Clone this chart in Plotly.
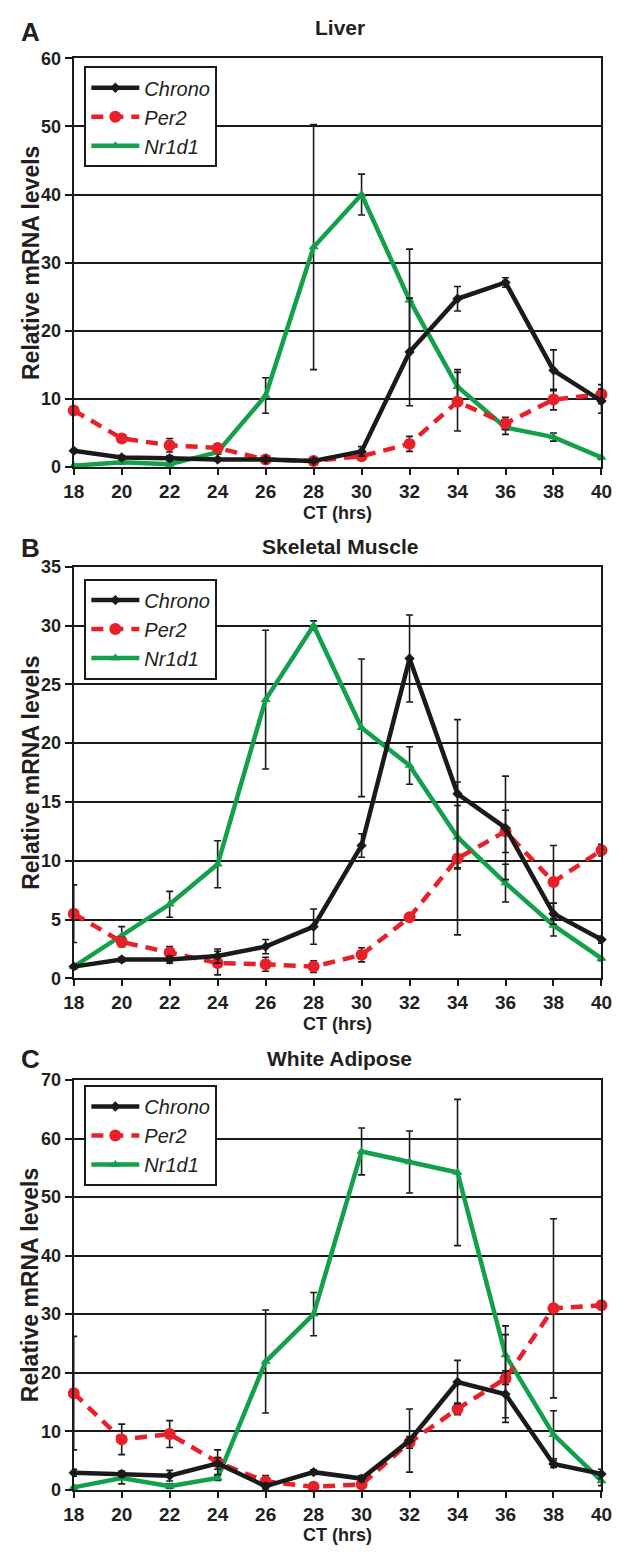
import plotly.graph_objects as go

W, H = 625, 1554

ct = [18, 20, 22, 24, 26, 28, 30, 32, 34, 36, 38, 40]
ct_ticks = ["18", "20", "22", "24", "26", "28", "30", "32", "34", "36", "38", "40"]
series_names = ["Chrono", "Per2", "Nr1d1"]
panel_titles = ["Liver", "Skeletal Muscle", "White Adipose"]
panel_letters = ["A", "B", "C"]
y_max = [60, 35, 70]
y_step = [10, 5, 10]

liver_chrono = [2.4, 1.4, 1.3, 1.1, 1.1, 0.9, 2.3, 16.9, 24.7, 27.1, 14.2, 9.7]
liver_chrono_err = [0.3, 0.3, 0.4, 0.2, 0.2, 0.2, 0.7, 7.9, 1.8, 0.7, 3.0, 1.8]
liver_per2 = [8.3, 4.2, 3.2, 2.8, 1.1, 0.9, 1.6, 3.4, 9.6, 6.4, 9.9, 10.7]
liver_per2_err = [0.4, 0.3, 1.0, 0.3, 0.2, 0.2, 0.3, 1.1, 4.3, 0.9, 1.5, 1.4]
liver_nr1d1 = [0.2, 0.7, 0.4, 2.2, 10.5, 32.3, 40.0, 24.5, 11.8, 5.8, 4.4, 1.4]
liver_nr1d1_err = [0.2, 0.2, 0.2, 0.3, 2.6, 18.0, 3.0, 7.5, 2.5, 1.0, 0.6, 0.3]

muscle_chrono = [1.0, 1.6, 1.6, 1.9, 2.7, 4.4, 11.3, 27.2, 15.7, 12.8, 5.5, 3.3]
muscle_chrono_err = [0.2, 0.2, 0.3, 0.6, 0.6, 1.5, 1.0, 3.7, 6.3, 4.4, 0.9, 0.3]
muscle_per2 = [5.5, 3.1, 2.2, 1.3, 1.2, 1.0, 2.0, 5.2, 10.2, 12.5, 8.2, 10.9]
muscle_per2_err = [2.45, 0.4, 0.5, 1.0, 0.6, 0.5, 0.6, 0.3, 6.5, 1.8, 3.1, 0.5]
muscle_nr1d1 = [1.0, 3.6, 6.3, 9.7, 23.7, 30.0, 21.3, 18.1, 12.0, 8.1, 4.5, 1.7]
muscle_nr1d1_err = [0.2, 0.8, 1.1, 2.0, 5.9, 0.4, 5.85, 1.6, 2.7, 1.6, 0.9, 0.2]

adipose_chrono = [2.9, 2.7, 2.4, 4.5, 0.6, 3.0, 1.9, 8.4, 18.4, 16.3, 4.4, 2.7]
adipose_chrono_err = [0.6, 0.5, 0.9, 1.0, 0.5, 0.4, 0.5, 5.4, 3.7, 4.0, 0.6, 0.8]
adipose_per2 = [16.5, 8.6, 9.5, 4.7, 1.4, 0.5, 0.9, 8.1, 13.8, 19.0, 31.0, 31.5]
adipose_per2_err = [9.7, 2.6, 2.3, 2.1, 1.0, 0.3, 0.5, 1.0, 1.0, 7.5, 15.3, 0.6]
adipose_nr1d1 = [0.4, 2.0, 0.6, 2.0, 21.9, 30.0, 57.8, 56.0, 54.2, 23.0, 9.4, 1.5]
adipose_nr1d1_err = [0.3, 1.0, 0.4, 0.4, 8.8, 3.7, 4.0, 5.3, 12.5, 5.0, 4.1, 0.8]

panels = [
    (liver_chrono, liver_chrono_err, liver_per2, liver_per2_err, liver_nr1d1, liver_nr1d1_err),
    (muscle_chrono, muscle_chrono_err, muscle_per2, muscle_per2_err, muscle_nr1d1, muscle_nr1d1_err),
    (adipose_chrono, adipose_chrono_err, adipose_per2, adipose_per2_err, adipose_nr1d1, adipose_nr1d1_err),
]

plot_left, plot_right = 65, 612
plot_rows = [(49, 463), (564, 981), (1084, 1499)]
legend_tops = [57, 576, 1089]
title_y = [18, 543, 1062]
letter_y = [22, 545, 1063]
xlabel_y = [510, 1027, 1545]

TXT = "#231f20"
FONT2 = "Liberation Sans, Arial, sans-serif"
BLACK = "#1a1a1a"
RED = "#e8202a"
GREEN = "#13a04a"

def px_x(px):
    return px / W

def px_y(py):
    return 1 - py / H

fig = go.Figure()
layout = dict(
    width=W, height=H,
    margin=dict(l=0, r=0, t=0, b=0),
    paper_bgcolor="white", plot_bgcolor="white",
    showlegend=True,
    annotations=[],
)

styles = [
    dict(color=BLACK, dash="solid", symbol="diamond", size=8, rank=1),
    dict(color=RED, dash="12px,8px", symbol="circle", size=12, rank=2),
    dict(color=GREEN, dash="solid", symbol="triangle-up", size=9, rank=3),
]

for i, data in enumerate(panels):
    n = i + 1
    xa = "x" if n == 1 else f"x{n}"
    ya = "y" if n == 1 else f"y{n}"
    lg = "legend" if n == 1 else f"legend{n}"
    series = [(data[0], data[1]), (data[2], data[3]), (data[4], data[5])]
    for k in [2, 1, 0]:
        vals, errs = series[k]
        st = styles[k]
        fig.add_trace(go.Scatter(
            x=ct, y=vals, xaxis=xa, yaxis=ya,
            mode="lines+markers",
            name=f"<i>{series_names[k]}</i>",
            legend=lg, legendrank=st["rank"],
            line=dict(color=st["color"], width=4.5, dash=st["dash"]),
            marker=dict(symbol=st["symbol"], size=st["size"], color=st["color"]),
            error_y=dict(type="data", array=errs, visible=True, color="#1a1a1a",
                         thickness=1.6, width=3.5),
            cliponaxis=False,
            hoverinfo="skip",
        ))
    top, bot = plot_rows[i]
    layout[("xaxis" if n == 1 else f"xaxis{n}")] = dict(
        domain=[px_x(plot_left), px_x(plot_right)], anchor=ya,
        range=[18, 40], tickmode="array", tickvals=ct, ticktext=ct_ticks,
        showline=True, linecolor=BLACK, linewidth=2, mirror=True,
        ticks="outside", ticklen=6, tickwidth=2, tickcolor=BLACK,
        showgrid=False, zeroline=False,
        tickfont=dict(family=FONT2, size=19, color=TXT, weight="bold"),
    )
    layout[("yaxis" if n == 1 else f"yaxis{n}")] = dict(
        domain=[px_y(bot), px_y(top)], anchor=xa,
        range=[0, y_max[i]], dtick=y_step[i], tick0=0,
        showline=True, linecolor=BLACK, linewidth=2, mirror=True,
        ticks="outside", ticklen=7, tickwidth=2, tickcolor=BLACK,
        showgrid=True, gridcolor=BLACK, gridwidth=2, zeroline=False,
        tickfont=dict(family=FONT2, size=18, color=TXT, weight="bold"),
    )
    layout[lg] = dict(
        x=px_x(76), y=px_y(legend_tops[i]), xanchor="left", yanchor="top",
        bordercolor=BLACK, borderwidth=2, bgcolor="white",
        font=dict(family=FONT2, size=20, color=TXT),
        tracegroupgap=0, itemwidth=48,
    )
    mid_x = (plot_left + plot_right) / 2
    layout["annotations"] += [
        dict(text=f"<b>{panel_titles[i]}</b>", x=px_x(mid_x + 2), y=px_y(title_y[i]),
             xref="paper", yref="paper", showarrow=False, xanchor="center", yanchor="middle",
             font=dict(family=FONT2, size=21, color=TXT)),
        dict(text=f"<b>{panel_letters[i]}</b>", x=px_x(20), y=px_y(letter_y[i]),
             xref="paper", yref="paper", showarrow=False, xanchor="center", yanchor="middle",
             font=dict(family=FONT2, size=26, color=TXT)),
        dict(text="<b>CT (hrs)</b>", x=px_x(mid_x), y=px_y(xlabel_y[i]),
             xref="paper", yref="paper", showarrow=False, xanchor="center", yanchor="middle",
             font=dict(family=FONT2, size=18, color=TXT)),
        dict(text="<b>Relative mRNA levels</b>", x=px_x(20), y=px_y((top + bot) / 2),
             xref="paper", yref="paper", showarrow=False, xanchor="center", yanchor="middle",
             textangle=-90, font=dict(family=FONT2, size=23, color=TXT)),
    ]

fig.update_layout(**layout)

reset_js = (
    "var s=document.createElement('style');"
    "s.textContent='html,body{margin:0!important;padding:0!important;border:0!important;overflow:hidden;}';"
    "document.head.appendChild(s);"
    "var gd=document.getElementById('{plot_id}');"
    "if(gd&&gd.parentElement){gd.parentElement.style.margin='0';gd.parentElement.style.padding='0';}"
)
fig.write_html("out.html", config={"displayModeBar": False}, post_script=reset_js)
